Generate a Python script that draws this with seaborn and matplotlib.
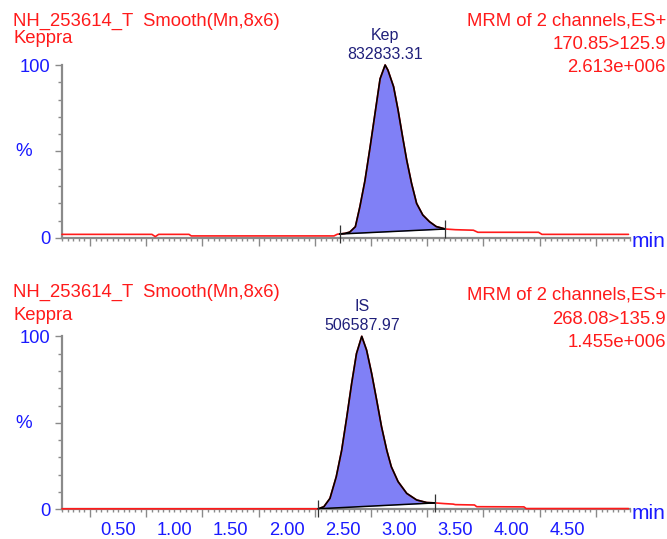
import numpy as np
import pandas as pd
import seaborn as sns
import matplotlib.pyplot as plt
from matplotlib.ticker import FixedLocator, MultipleLocator, FuncFormatter, NullFormatter

sns.set_style("ticks")
plt.rcParams["font.family"] = ["Liberation Sans", "DejaVu Sans"]

# --- data (time in min, intensity in %) ---
kep_time = [0.00, 0.80, 0.83, 0.86, 1.13, 1.15, 2.42, 2.45, 2.47,
            2.52, 2.56, 2.61, 2.65, 2.695, 2.74, 2.785, 2.83, 2.875,
            2.90, 2.95, 2.99, 3.03, 3.067, 3.11, 3.155, 3.21, 3.27, 3.33,
            3.41, 3.50, 3.66, 3.70, 4.24, 4.27, 5.04]
kep_pct = [2.1, 2.1, 0.8, 2.1, 2.1, 1.2, 1.2, 2.2, 2.3,
           2.7, 3.4, 6.5, 18, 33, 52, 72, 92, 100,
           97, 87.5, 74, 58.6, 45, 31.6, 20, 13.3, 9.4, 6.6,
           5.2, 4.8, 4.5, 3.3, 3.3, 2.1, 2.1]

is_time = [0.00, 2.28, 2.33, 2.384, 2.44, 2.488, 2.533, 2.577, 2.62, 2.667,
           2.71, 2.755, 2.80, 2.843, 2.89, 2.93, 2.99, 3.067, 3.155, 3.245,
           3.32, 3.40, 3.48, 3.50, 3.67, 3.69, 4.11, 4.13, 5.04]
is_pct = [0.3, 0.3, 1.5, 6.3, 18.8, 34, 53, 72.7, 90, 100,
          92, 78.5, 63, 47.7, 34, 24.6, 16, 9.2, 5.4, 3.9,
          3.7, 3.3, 3.0, 2.7, 2.5, 1.5, 1.4, 0.4, 0.4]

peak_names = ["Kep", "IS"]
peak_areas = ["832833.31", "506587.97"]
peak_windows = [(2.47, 3.41), (2.28, 3.32)]
sample_title = "NH_253614_T  Smooth(Mn,8x6)"
compound = "Keppra"
scan_mode = "MRM of 2 channels,ES+"
transitions = ["170.85>125.9", "268.08>135.9"]
max_counts = ["2.613e+006", "1.455e+006"]
x_labels = ["0.50", "1.00", "1.50", "2.00", "2.50", "3.00", "3.50", "4.00", "4.50"]

RED = "#ff1a1a"
BLUE = "#1a1aff"
NAVY = "#1f1f7a"
FILL = "#8080f6"
GRAY = "#8a8a8a"

W, H = 667, 539
fig = plt.figure(figsize=(W / 100, H / 100), dpi=100)


def fx(px):
    return px / W


def fy(py):
    return 1 - py / H


def draw_panel(ax, t, p, name, area, window, labels):
    df = pd.DataFrame({"time": t, "pct": p})
    sns.lineplot(data=df, x="time", y="pct", ax=ax, color=RED, lw=1.2,
                 estimator=None, sort=True, zorder=3, clip_on=False)

    t0, t1 = window
    peak = df[(df.time >= t0 - 1e-9) & (df.time <= t1 + 1e-9)]
    v0, v1 = np.interp([t0, t1], df.time, df.pct)
    base = np.interp(peak.time, [t0, t1], [v0, v1])
    ax.fill_between(peak.time, peak.pct, base, color=FILL, lw=0, zorder=2)
    sns.lineplot(data=peak, x="time", y="pct", ax=ax, color="black", lw=1.2,
                 estimator=None, zorder=4, clip_on=False)
    ax.plot([t0, t1], [v0, v1], color="black", lw=1.1, zorder=4)
    ax.vlines([t0, t1], [v0 - 5, v1 - 5], [v0 + 5, v1 + 5], color="#333333",
              lw=0.9, zorder=4, clip_on=False)

    apex = peak.time.iloc[int(np.argmax(peak.pct.values))]
    ax.annotate(area, xy=(apex, 100), xytext=(0, 4.3), textcoords="offset points",
                ha="center", va="baseline", color=NAVY, fontsize=11.5)
    ax.annotate(name, xy=(apex, 100), xytext=(0, 18.2), textcoords="offset points",
                ha="center", va="baseline", color=NAVY, fontsize=11.5)

    ax.set_xlim(0, 5.05)
    ax.set_ylim(0, 100)
    sns.despine(ax=ax)
    for side in ["left", "bottom"]:
        ax.spines[side].set_color(GRAY)
        ax.spines[side].set_linewidth(1.6)
    ax.spines["left"].set_bounds(0, 100)
    ax.set_xlabel("")
    ax.set_ylabel("")

    # y ticks
    ax.yaxis.set_major_locator(FixedLocator([0, 50, 100]))
    ax.yaxis.set_major_formatter(FuncFormatter(lambda v, _: "" if v == 50 else f"{v:.0f}"))
    ax.yaxis.set_minor_locator(MultipleLocator(10))
    ax.tick_params(axis="y", which="major", length=5.4, width=1, color=GRAY,
                   labelsize=13.2, labelcolor=BLUE, pad=3)
    ax.tick_params(axis="y", which="minor", length=2.7, width=1, color=GRAY)

    # x ticks: long marks between labels, labels on the fine ticks
    ax.xaxis.set_major_locator(FixedLocator(np.arange(0.25, 5.0, 0.5)))
    ax.xaxis.set_major_formatter(NullFormatter())
    ax.xaxis.set_minor_locator(MultipleLocator(0.05))

    def minor_fmt(v, _):
        k = v / 0.5
        if labels and abs(k - round(k)) < 1e-6 and 1 <= round(k) <= len(x_labels):
            return x_labels[int(round(k)) - 1]
        return ""

    ax.xaxis.set_minor_formatter(FuncFormatter(minor_fmt))
    ax.tick_params(axis="x", which="major", length=5.5, width=1, color=GRAY)
    ax.tick_params(axis="x", which="minor", length=2.4, width=1, color=GRAY,
                   labelsize=13.2, labelcolor=BLUE, pad=7)

    ax.annotate("min", xy=(1, 0), xycoords="axes fraction", xytext=(1.5, -6.8),
                textcoords="offset points", ha="left", va="baseline",
                color=BLUE, fontsize=15)
    ax.annotate("%", xy=(0, 50), xycoords=("axes fraction", "data"),
                xytext=(-33.8, -3.6), textcoords="offset points",
                ha="left", va="baseline", color=BLUE, fontsize=13.5)


ax_top = fig.add_axes([fx(62), fy(238), fx(629.6) - fx(62), (238 - 65) / H])
ax_bot = fig.add_axes([fx(62), fy(509.3), fx(629.6) - fx(62), (509.3 - 336.3) / H])

draw_panel(ax_top, kep_time, kep_pct, peak_names[0], peak_areas[0], peak_windows[0], False)
draw_panel(ax_bot, is_time, is_pct, peak_names[1], peak_areas[1], peak_windows[1], True)

# header texts
left_rows = [(26, 42.7), (296.7, 320)]
right_rows = [(25, 49.3, 71.7), (299.3, 324, 346.7)]
for i in range(2):
    fig.text(fx(13.3), fy(left_rows[i][0]), sample_title, color=RED, fontsize=13.3,
             ha="left", va="baseline")
    fig.text(fx(13.3), fy(left_rows[i][1]), compound, color=RED, fontsize=13.3,
             ha="left", va="baseline")
    for txt, yy in zip([scan_mode, transitions[i], max_counts[i]], right_rows[i]):
        fig.text(fx(666), fy(yy), txt, color=RED, fontsize=13.3, ha="right", va="baseline")

fig.savefig("out.png", dpi=100)
